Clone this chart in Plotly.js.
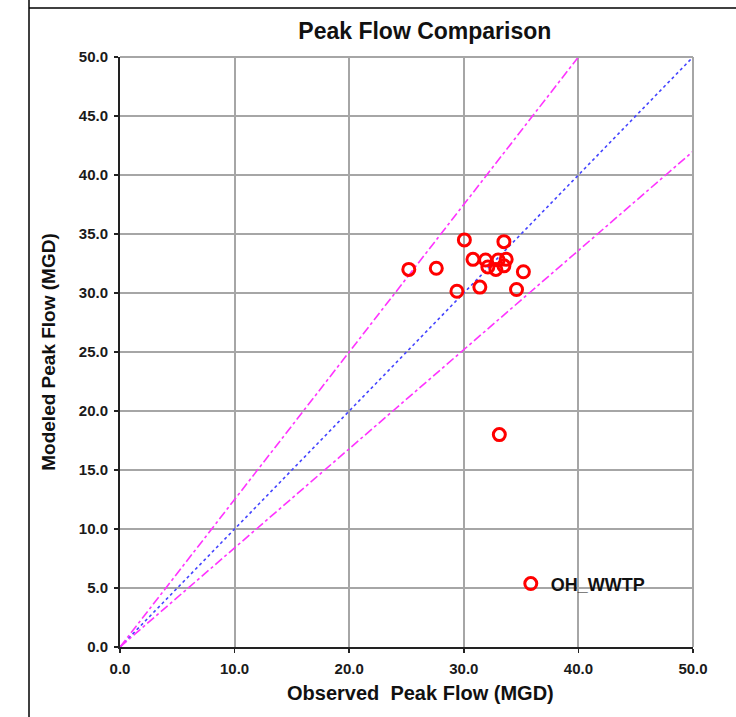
<!DOCTYPE html>
<html>
<head>
<meta charset="utf-8">
<script src="https://cdn.plot.ly/plotly-3.0.1.min.js"></script>
<style>html,body{margin:0;padding:0;background:#fff;}#chart{width:736px;height:717px;}</style>
</head>
<body>
<div id="chart"></div>
<script>
// Observed vs modeled peak flow (MGD)
const observed = [30.05, 33.5, 25.2, 27.6, 30.8, 31.9, 33.0, 33.7, 32.1, 32.8, 33.5, 35.2, 29.4, 31.4, 34.6, 33.1];
const modeled  = [34.5, 34.35, 32.0, 32.1, 32.85, 32.8, 32.8, 32.85, 32.2, 32.0, 32.3, 31.8, 30.15, 30.5, 30.3, 18.0];
const seriesName = "OH_WWTP";

// Reference lines
const equalX = [0, 50];
const equalY = [0, 50];
const upperX = [0, 40];
const upperY = [0, 50];
const lowerX = [0, 50];
const lowerY = [0, 42];

const xTicks = [0, 10, 20, 30, 40, 50];
const yTicks = [0, 5, 10, 15, 20, 25, 30, 35, 40, 45, 50];

const font = "Liberation Sans, Arial, sans-serif";

const traces = [
  {x: equalX, y: equalY, mode: "lines", showlegend: false, hoverinfo: "skip",
   line: {color: "#4444ff", width: 1.6, dash: "dot"}},
  {x: upperX, y: upperY, mode: "lines", showlegend: false, hoverinfo: "skip",
   line: {color: "#ff33ff", width: 1.6, dash: "dashdot"}},
  {x: lowerX, y: lowerY, mode: "lines", showlegend: false, hoverinfo: "skip",
   line: {color: "#ff33ff", width: 1.6, dash: "dashdot"}},
  {x: observed, y: modeled, mode: "markers", name: seriesName, showlegend: true,
   marker: {symbol: "circle-open", size: 12, color: "#ff0000", line: {color: "#ff0000", width: 3}}}
];

const axisCommon = {
  showgrid: true, gridcolor: "#a6a6a6", gridwidth: 2,
  zeroline: false, showline: true, linecolor: "#222", linewidth: 2,
  ticks: "outside", ticklen: 4, tickwidth: 1.5, tickcolor: "#222",
  tickformat: ".1f", ticklabelstandoff: 3,
  tickfont: {family: font, size: 15, color: "#1a1a1a", weight: "bold"}
};

const layout = {
  width: 736, height: 717,
  margin: {l: 120, r: 43, t: 57, b: 70},
  paper_bgcolor: "#fff", plot_bgcolor: "#fff",
  title: {text: "<b>Peak Flow Comparison</b>", x: 0.532, xref: "paper", xanchor: "center",
          y: 1 - 31/717, yanchor: "middle",
          font: {family: font, size: 23, color: "#111"}},
  xaxis: Object.assign({}, axisCommon, {
    range: [0, 50], tickvals: xTicks,
    title: {text: "&nbsp;&nbsp;&nbsp;&nbsp;&nbsp;<b>Observed  Peak Flow (MGD)</b>", standoff: 10,
            font: {family: font, size: 20, color: "#111"}}
  }),
  yaxis: Object.assign({}, axisCommon, {
    range: [0, 50], tickvals: yTicks,
    title: {text: "<b>Modeled Peak Flow (MGD)</b>", standoff: 18,
            font: {family: font, size: 19, color: "#111"}}
  }),
  legend: {x: 0.682, y: 0.107, xanchor: "left", yanchor: "middle", bgcolor: "rgba(0,0,0,0)",
           font: {family: font, size: 18, color: "#111", weight: "bold"},
           itemwidth: 30},
  shapes: [
    // gray top/right frame of plot area
    {type: "line", xref: "paper", yref: "paper", x0: 0, x1: 1, y0: 1, y1: 1, line: {color: "#a6a6a6", width: 2}},
    {type: "line", xref: "paper", yref: "paper", x0: 1, x1: 1, y0: 0, y1: 1, line: {color: "#a6a6a6", width: 2}},
    // outer chart border (left and top)
    {type: "line", xref: "paper", yref: "paper", x0: -91/573, x1: -91/573, y0: 1 + 639/590, y1: -100/590, line: {color: "#000", width: 1.5}},
    {type: "line", xref: "paper", yref: "paper", x0: -91/573, x1: 700/573, y0: 1 + 49/590, y1: 1 + 49/590, line: {color: "#000", width: 1.5}}
  ],
  showlegend: true
};

Plotly.newPlot("chart", traces, layout, {displayModeBar: false, staticPlot: true});
</script>
</body>
</html>
